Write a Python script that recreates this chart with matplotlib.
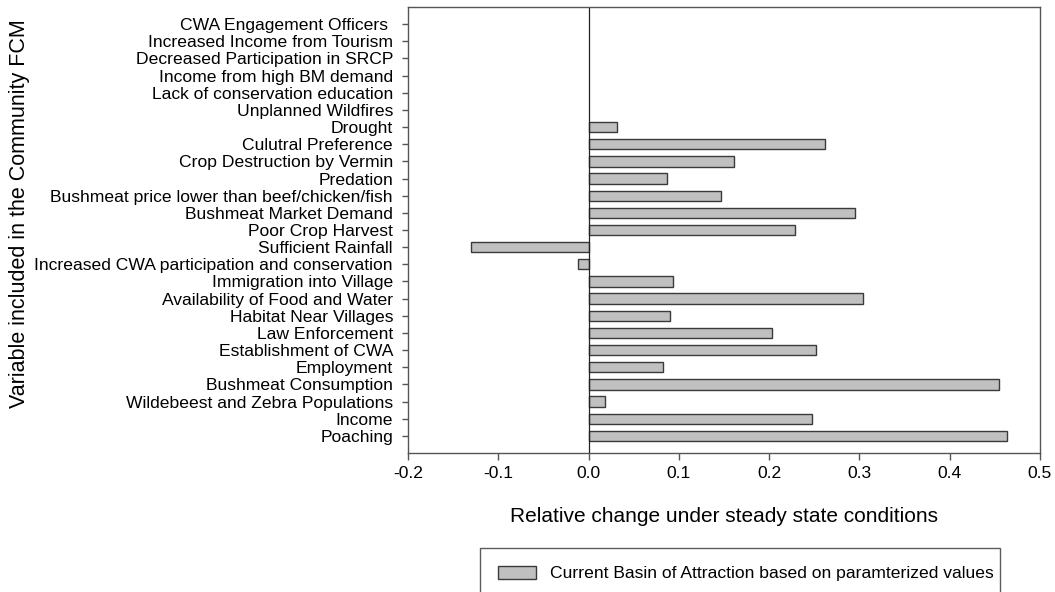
import matplotlib.pyplot as plt
import numpy as np

plt.rcParams["font.family"] = ["Liberation Sans", "DejaVu Sans"]

# variables, bottom to top as drawn
variables = [
    "Poaching",
    "Income",
    "Wildebeest and Zebra Populations",
    "Bushmeat Consumption",
    "Employment",
    "Establishment of CWA",
    "Law Enforcement",
    "Habitat Near Villages",
    "Availability of Food and Water",
    "Immigration into Village",
    "Increased CWA participation and conservation",
    "Sufficient Rainfall",
    "Poor Crop Harvest",
    "Bushmeat Market Demand",
    "Bushmeat price lower than beef/chicken/fish",
    "Predation",
    "Crop Destruction by Vermin",
    "Culutral Preference",
    "Drought",
    "Unplanned Wildfires",
    "Lack of conservation education",
    "Income from high BM demand",
    "Decreased Participation in SRCP",
    "Increased Income from Tourism",
    "CWA Engagement Officers ",
]
rel_change = [
    0.463, 0.248, 0.018, 0.455, 0.082, 0.252, 0.203, 0.090, 0.304, 0.093,
    -0.012, -0.130, 0.229, 0.295, 0.147, 0.087, 0.161, 0.262, 0.031,
    0.0, 0.0, 0.0, 0.0, 0.0, 0.0,
]
x_ticks = [-0.2, -0.1, 0.0, 0.1, 0.2, 0.3, 0.4, 0.5]

fig = plt.figure(figsize=(10.55, 5.92), dpi=100)
ax = fig.add_axes([408 / 1055, 1 - 453 / 592, 632 / 1055, 446 / 592])

ypos = np.arange(len(variables))
vals = np.array(rel_change)
shown = vals != 0
ax.barh(ypos[shown], vals[shown], height=0.6, color="#c0c0c0",
        edgecolor="#3a3a3a", linewidth=1.0,
        label="Current Basin of Attraction based on paramterized values")
ax.axvline(0, color="#222222", linewidth=0.9)

ax.set_xlim(-0.2, 0.5)
ax.set_ylim(-1, len(variables))
ax.set_xticks(x_ticks)
ax.set_xticklabels([f"{t:.1f}" for t in x_ticks])
ax.set_yticks(ypos)
ax.set_yticklabels(variables)

for s in ax.spines.values():
    s.set_color("#555555")
    s.set_linewidth(1.0)
ax.tick_params(axis="y", direction="out", length=4.3, width=1, color="#555555",
               labelsize=12.6, pad=6.5)
ax.tick_params(axis="x", direction="out", length=5, width=1, color="#555555",
               labelsize=12.6, pad=4)

ax.set_xlabel("Relative change under steady state conditions", fontsize=15,
              labelpad=19)
fig.text(20 / 1055, 1 - 214 / 592, "Variable included in the Community FCM",
         rotation=90, fontsize=15.5, ha="center", va="center")

leg = fig.legend(loc="upper left",
                 bbox_to_anchor=(480 / 1055, -0.03, 520 / 1055, 0.104),
                 mode="expand", fontsize=12.6, handlelength=2.2,
                 handleheight=0.8, handletextpad=0.8, borderpad=1.0,
                 borderaxespad=0, fancybox=False, frameon=True)
leg.get_frame().set_edgecolor("#333333")
leg.get_frame().set_linewidth(1.0)

fig.savefig("out.png", dpi=100)
